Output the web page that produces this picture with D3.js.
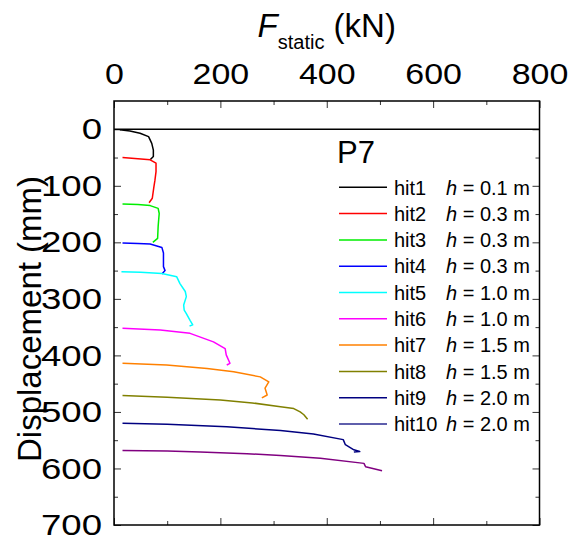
<!DOCTYPE html>
<html>
<head>
<meta charset="utf-8">
<script src="https://cdn.jsdelivr.net/npm/d3@7"></script>
<style>
  body { margin: 0; background: #fff; }
  text { font-family: "Liberation Sans", Arial, sans-serif; fill: #000; }
</style>
</head>
<body>
<div id="chart"></div>
<script>
// ---- data: [force kN, displacement mm]
const hit1 = [[11,1],[30,3],[49,7],[65,13],[71,25],[74,37],[74,48],[68,54]];
const hit2 = [[16,50],[45,52],[68,54],[79,60],[79,75],[77,90],[75,102],[72,122],[66,130]];
const hit3 = [[16,132],[45,133],[68,135],[83,140],[85,149],[84,160],[83,172],[82,193],[73,200]];
const hit4 = [[16,201],[45,202],[68,203],[90,209],[93,219],[93,243],[96,250],[90,256]];
const hit5 = [[14,252],[50,253],[90,255],[118,261],[124,273],[134,287],[136,296],[131,311],[132,320],[136,326],[143,338],[148,346],[142,348]];
const hit6 = [[16,352],[87,355],[143,361],[187,376],[209,388],[211,399],[218,414],[212,417]];
const hit7 = [[16,414],[99,417],[175,423],[225,429],[275,438],[291,447],[284,458],[288,470],[278,475]];
const hit8 = [[16,471],[100,474],[200,479],[260,484],[313,491],[338,494],[350,500],[357,505],[364,513]];
const hit9 = [[16,520],[100,522],[212,526],[313,533],[375,539],[431,549],[435,558],[451,567],[462,570],[451,571]];
const hit10 = [[16,568],[100,569],[162,571],[250,574],[313,577],[388,582],[470,591],[473,597],[504,604]];

const series = [hit1, hit2, hit3, hit4, hit5, hit6, hit7, hit8, hit9, hit10];
const hitNames = ["hit1","hit2","hit3","hit4","hit5","hit6","hit7","hit8","hit9","hit10"];
const dropHeights = ["0.1","0.3","0.3","0.3","1.0","1.0","1.5","1.5","2.0","2.0"];
const lineColors = ["#000000","#ff0000","#00ee00","#0000ff","#00ffff","#ff00ff","#ff8000","#808000","#000080","#800080"];
const legendColors = ["#000000","#ff0000","#00ee00","#0000ff","#00ffff","#ff00ff","#ff8000","#808000","#000080","#2a2a90"];

const xMajor = [0,200,400,600,800];
const xMinor = [100,300,500,700];
const yMajor = [0,100,200,300,400,500,600,700];
const yMinor = [50,150,250,350,450,550,650];

const width = 578, height = 535;
const plotLeft = 114, plotRight = 539.5, plotTop = 101, plotBottom = 525;
// tick labels are drawn wide in the original
const xStretch = 1.17, yStretch = 1.22;

const svg = d3.select("#chart").append("svg")
  .attr("width", width)
  .attr("height", height);

const x = d3.scaleLinear().domain([0, 800]).range([plotLeft, plotRight]);
const y = d3.scaleLinear().domain([-50, 700]).range([plotTop, plotBottom]);

// ticks, all pointing inward
function ticks(axis, tx, ty, values, size) {
  svg.append("g")
    .attr("transform", `translate(${tx},${ty})`)
    .call(axis.tickValues(values).tickSizeInner(-size).tickSizeOuter(0).tickFormat(""))
    .call(g => g.select(".domain").remove())
    .selectAll("line").attr("stroke", "#333").attr("stroke-width", 1);
}
ticks(d3.axisTop(x), 0, plotTop, xMajor, 7);
ticks(d3.axisTop(x), 0, plotTop, xMinor, 4);
ticks(d3.axisBottom(x), 0, plotBottom, xMajor, 7);
ticks(d3.axisBottom(x), 0, plotBottom, xMinor, 4);
ticks(d3.axisLeft(y), plotLeft, 0, yMajor, 7);
ticks(d3.axisLeft(y), plotLeft, 0, yMinor, 4);
ticks(d3.axisRight(y), plotRight, 0, yMajor, 7);
ticks(d3.axisRight(y), plotRight, 0, yMinor, 4);

// tick labels
svg.append("g")
  .attr("transform", `translate(0,${plotTop})`)
  .call(d3.axisTop(x).tickValues(xMajor).tickSize(0).tickPadding(17))
  .call(g => g.select(".domain").remove())
  .selectAll("text")
  .attr("font-size", 29)
  .attr("font-family", "Liberation Sans, Arial, sans-serif")
  .attr("transform", `scale(${xStretch},1)`);

svg.append("g")
  .attr("transform", `translate(${plotLeft},0)`)
  .call(d3.axisLeft(y).tickValues(yMajor).tickSize(0).tickPadding(12 / yStretch))
  .call(g => g.select(".domain").remove())
  .selectAll("text")
  .attr("font-size", 30)
  .attr("font-family", "Liberation Sans, Arial, sans-serif")
  .attr("transform", `scale(${yStretch},1)`);

// zero line
svg.append("line")
  .attr("x1", plotLeft).attr("x2", plotRight)
  .attr("y1", y(0)).attr("y2", y(0))
  .attr("stroke", "#000").attr("stroke-width", 1.5);

// curves
const line = d3.line()
  .x(d => x(d[0]))
  .y(d => y(d[1]));

svg.append("g")
  .selectAll("path")
  .data(series)
  .join("path")
  .attr("fill", "none")
  .attr("stroke", (d, i) => lineColors[i])
  .attr("stroke-width", 1.5)
  .attr("stroke-linejoin", "round")
  .attr("d", line);

// frame
svg.append("rect")
  .attr("x", plotLeft).attr("y", plotTop)
  .attr("width", plotRight - plotLeft).attr("height", plotBottom - plotTop)
  .attr("fill", "none").attr("stroke", "#000").attr("stroke-width", 1.5);

// axis titles
const title = svg.append("text")
  .attr("x", (plotLeft + plotRight) / 2)
  .attr("y", 37)
  .attr("text-anchor", "middle")
  .attr("font-size", 33);
title.append("tspan").attr("font-style", "italic").text("F");
title.append("tspan").attr("font-size", 20).attr("dy", 12).text("static");
title.append("tspan").attr("dy", -12).text(" (kN)");

svg.append("text")
  .attr("transform", `translate(41,${(plotTop + plotBottom) / 2 + 6}) rotate(-90)`)
  .attr("text-anchor", "middle")
  .attr("font-size", 33)
  .text("Displacement (mm)");

// legend
svg.append("text")
  .attr("x", 337).attr("y", 163)
  .attr("font-size", 31)
  .text("P7");

const legend = svg.append("g")
  .selectAll("g")
  .data(hitNames)
  .join("g")
  .attr("transform", (d, i) => `translate(0,${187.3 + 26.3 * i})`);

legend.append("line")
  .attr("x1", 339).attr("x2", 387)
  .attr("stroke", (d, i) => legendColors[i])
  .attr("stroke-width", 1.5);

legend.append("text")
  .attr("x", 394).attr("dy", "0.36em")
  .attr("font-size", 20)
  .text(d => d);

const hText = legend.append("text")
  .attr("x", 446).attr("dy", "0.36em")
  .attr("font-size", 20);
hText.append("tspan").attr("font-style", "italic").text("h");
hText.append("tspan").text((d, i) => ` = ${dropHeights[i]} m`);
</script>
</body>
</html>
